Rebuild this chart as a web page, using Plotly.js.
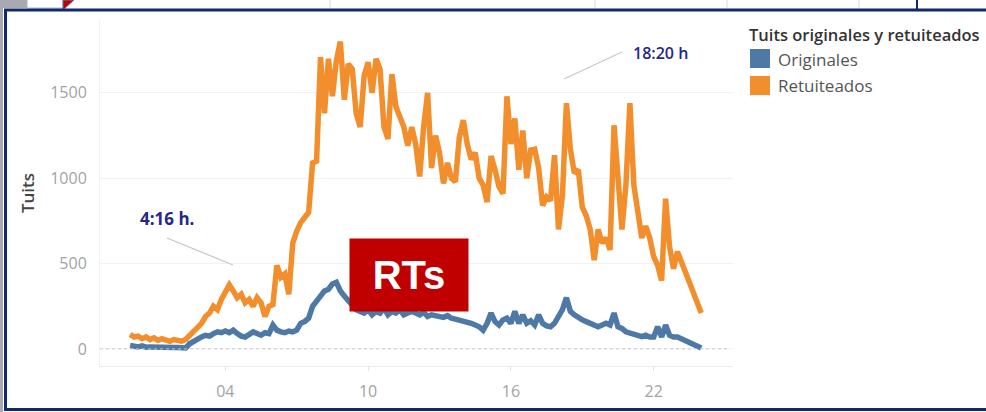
<!DOCTYPE html>
<html><head><meta charset="utf-8">
<script src="https://cdn.plot.ly/plotly-3.0.1.min.js"></script>
<style>html,body{margin:0;padding:0;background:#fff;overflow:hidden}#chart{width:986px;height:412px}</style>
</head><body><div id="chart"></div>
<script>
// 10-minute samples from 00:00 to 24:00 (145 points)
const retuiteados = [
  85, 70, 75, 60, 70, 55,
  65, 50, 60, 55, 45, 55,
  50, 45, 55, 80, 110, 130,
  150, 190, 210, 250, 230, 290,
  330, 375, 340, 300, 320, 270,
  290, 250, 300, 270, 190, 250,
  260, 490, 420, 440, 320, 620,
  690, 740, 770, 800, 1090, 1100,
  1710, 1380, 1700, 1480, 1690, 1800,
  1460, 1670, 1640, 1380, 1300, 1600,
  1680, 1500, 1700, 1640, 1300, 1230,
  1610, 1420, 1360, 1300, 1190, 1300,
  1200, 1010, 1300, 1500, 1060, 1250,
  1150, 970, 1090, 1000, 980, 1240,
  1340, 1200, 1110, 1150, 1000, 960,
  860, 1130, 1050, 950, 910, 1480,
  1200, 1350, 1050, 1280, 1000, 1165,
  1170, 1060, 840, 890, 870, 1135,
  700, 900, 1440, 1170, 1030, 1050,
  830, 780, 700, 520, 700, 620,
  650, 580, 1310, 1050, 700, 960,
  1440, 960, 780, 650, 720, 650,
  540, 490, 400, 880, 600, 470,
  570, 510, 460, 390, 340, 270,
  210
];
const originales = [
  20, 15, 12, 18, 10, 12,
  10, 8, 12, 6, 10, 8,
  8, 10, 6, 30, 45, 55,
  70, 80, 75, 90, 100, 95,
  105, 95, 110, 90, 75, 70,
  85, 100, 90, 80, 95, 90,
  140, 110, 100, 95, 105, 100,
  110, 150, 160, 180, 250, 280,
  300, 340, 350, 380, 390, 340,
  310, 280, 250, 230, 220, 210,
  230, 200, 220, 210, 240, 200,
  220, 210, 230, 200, 210, 220,
  210, 200, 215, 190, 200, 195,
  190, 185, 195, 180, 175, 170,
  165, 160, 150, 140, 130, 110,
  150, 210, 160, 140, 170, 180,
  150, 220, 150, 200, 150, 165,
  140, 200, 150, 135, 130, 150,
  190, 230, 300, 220, 200, 180,
  170, 160, 150, 140, 130, 140,
  150, 140, 210, 130, 120, 100,
  95, 90, 85, 72, 80, 70,
  70, 130, 70, 140, 80, 70,
  70, 60, 50, 40, 30, 15,
  5
];
const seriesNames = ['Originales', 'Retuiteados'];
const seriesColors = ['#4e79a7', '#f28e2b'];
const yTickVals = [0, 500, 1000, 1500];
const xTickVals = ['2020-01-02 04:00', '2020-01-02 10:00', '2020-01-02 16:00', '2020-01-02 22:00'];
const xTickLabels = ['04', '10', '16', '22'];
const legendTitle = 'Tuits originales y retuiteados';
const yTitle = 'Tuits';

const times = retuiteados.map((_, i) =>
  new Date(Date.UTC(2020, 0, 2, 0, i * 10)).toISOString().slice(0, 16).replace('T', ' '));

// pixel -> paper helpers for decoration (plot area 100..733 x 20..366)
const L = 100, R = 733, T = 20, B = 366;
const px = X => (X - L) / (R - L);
const py = Y => (B - Y) / (B - T);

const traces = [
  { x: times, y: retuiteados, type: 'scatter', mode: 'lines', name: seriesNames[1],
    line: { color: seriesColors[1], width: 5.5 }, showlegend: false, hoverinfo: 'x+y' },
  { x: times, y: originales, type: 'scatter', mode: 'lines', name: seriesNames[0],
    line: { color: seriesColors[0], width: 5.5 }, showlegend: false, hoverinfo: 'x+y' }
];

const tickFont = { family: 'Open Sans, sans-serif', size: 16, color: '#a3a3a3' };
const shapes = [
  // zero line dotted
  { type: 'line', xref: 'paper', yref: 'y', x0: 0, x1: 0.995, y0: 0, y1: 0,
    line: { color: '#c8c8c8', width: 1, dash: 'dot' } },
  // outer gray strip and frame
  { type: 'rect', xref: 'paper', yref: 'paper', x0: px(0), x1: px(3), y0: py(412), y1: py(0),
    fillcolor: '#a9a9b3', line: { width: 0 }, layer: 'below' },
  { type: 'rect', xref: 'paper', yref: 'paper', x0: px(0), x1: px(27), y0: py(8), y1: py(0),
    fillcolor: '#a9a9b3', line: { width: 0 }, layer: 'below' },
  { type: 'rect', xref: 'paper', yref: 'paper', x0: px(27), x1: px(63), y0: py(8), y1: py(-1),
    fillcolor: '#ffffff', line: { width: 1, color: '#9fb4cc' }, layer: 'below' },
  { type: 'path', xref: 'paper', yref: 'paper',
    path: `M ${px(63)} ${py(0)} L ${px(74)} ${py(0)} L ${px(63)} ${py(10)} Z`,
    fillcolor: '#c00000', line: { width: 1, color: '#5a7fa8' } },
  { type: 'line', xref: 'paper', yref: 'paper', x0: px(330), x1: px(330), y0: py(8), y1: py(0),
    line: { color: '#d8d8d8', width: 1 } },
  { type: 'line', xref: 'paper', yref: 'paper', x0: px(595), x1: px(595), y0: py(8), y1: py(0),
    line: { color: '#d8d8d8', width: 1 } },
  { type: 'line', xref: 'paper', yref: 'paper', x0: px(727), x1: px(727), y0: py(8), y1: py(0),
    line: { color: '#d8d8d8', width: 1 } },
  { type: 'line', xref: 'paper', yref: 'paper', x0: px(859), x1: px(859), y0: py(8), y1: py(0),
    line: { color: '#d8d8d8', width: 1 } },
  { type: 'line', xref: 'paper', yref: 'paper', x0: px(917), x1: px(917), y0: py(9), y1: py(0),
    line: { color: '#0f2b6b', width: 2 } },
  { type: 'path', xref: 'paper', yref: 'paper',
    path: `M ${px(1000)} ${py(10)} L ${px(5.5)} ${py(10)} L ${px(5.5)} ${py(409.5)} L ${px(1000)} ${py(409.5)}`,
    line: { color: '#0f2b6b', width: 3 } },
  // annotation leader lines
  { type: 'line', xref: 'paper', yref: 'paper', x0: px(167), y0: py(238), x1: px(233), y1: py(265),
    line: { color: '#c8c8c8', width: 1.3 } },
  { type: 'line', xref: 'paper', yref: 'paper', x0: px(564), y0: py(79), x1: px(622), y1: py(52),
    line: { color: '#c8c8c8', width: 1.3 } },
  // legend swatches
  { type: 'rect', xref: 'paper', yref: 'paper', x0: px(750), x1: px(770), y0: py(68), y1: py(49),
    fillcolor: seriesColors[0], line: { width: 0 } },
  { type: 'rect', xref: 'paper', yref: 'paper', x0: px(750), x1: px(770), y0: py(95), y1: py(76),
    fillcolor: seriesColors[1], line: { width: 0 } }
];

const annotations = [
  { xref: 'paper', yref: 'paper', x: px(167), y: py(218), text: '<b>4:16 h.</b>', showarrow: false,
    font: { family: 'Open Sans, sans-serif', size: 17, color: '#26268a' }, xanchor: 'center', yanchor: 'middle' },
  { xref: 'paper', yref: 'paper', x: px(660), y: py(53), text: '18:20 h', showarrow: false,
    font: { family: 'Open Sans, sans-serif', size: 16, color: '#26268a', weight: 600 }, xanchor: 'center', yanchor: 'middle' },
  { xref: 'paper', yref: 'paper', x: px(409), y: py(275), text: '<b>RTs</b>', showarrow: false,
    font: { family: 'Liberation Sans, Arial, sans-serif', size: 40, color: '#ffffff' },
    bgcolor: '#c00000', width: 118, height: 72, borderpad: 0, xanchor: 'center', yanchor: 'middle' },
  { xref: 'paper', yref: 'paper', x: px(747), y: py(35), text: legendTitle, showarrow: false,
    font: { family: 'Open Sans, sans-serif', size: 16.5, color: '#333333', weight: 600 },
    xanchor: 'left', yanchor: 'middle' },
  { xref: 'paper', yref: 'paper', x: px(776), y: py(59), text: seriesNames[0], showarrow: false,
    font: { family: 'Open Sans, sans-serif', size: 17, color: '#555555' }, xanchor: 'left', yanchor: 'middle' },
  { xref: 'paper', yref: 'paper', x: px(776), y: py(86), text: seriesNames[1], showarrow: false,
    font: { family: 'Open Sans, sans-serif', size: 17, color: '#555555' }, xanchor: 'left', yanchor: 'middle' }
];

const layout = {
  width: 986, height: 412,
  margin: { l: L, r: 986 - R, t: T, b: 412 - B, pad: 0 },
  paper_bgcolor: '#ffffff', plot_bgcolor: '#ffffff',
  showlegend: false,
  xaxis: {
    type: 'date', range: ['2020-01-01 22:44', '2020-01-03 01:20'],
    tickvals: xTickVals, ticktext: xTickLabels, tickfont: tickFont,
    showgrid: false, zeroline: false, showline: true, linecolor: '#ececec', linewidth: 1,
    ticks: 'outside', ticklen: 4, tickcolor: '#e4e4e4', ticklabelstandoff: 7, fixedrange: true
  },
  yaxis: {
    range: [-100, 1927], tickvals: yTickVals, tickfont: tickFont,
    showgrid: true, gridcolor: '#f2f2f2', gridwidth: 1, zeroline: false,
    showline: true, linecolor: '#f0f0f0', ticks: '', ticklabelstandoff: 9,
    title: { text: yTitle, font: { family: 'Open Sans, sans-serif', size: 17, color: '#444444', weight: 600 }, standoff: 11 },
    fixedrange: true
  },
  shapes: shapes,
  annotations: annotations
};

Plotly.newPlot('chart', traces, layout, { displayModeBar: false, staticPlot: true });
</script>
</body></html>
